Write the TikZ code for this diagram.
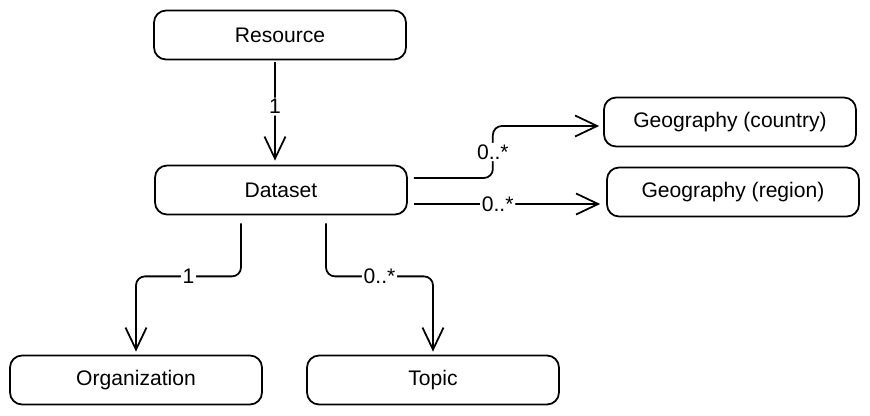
\documentclass[tikz,border=0pt]{standalone}
\usepackage{fontspec}
\setmainfont{Liberation Sans}
\usetikzlibrary{calc,arrows.meta}
\tikzset{
	entity/.style={draw, line width=1pt, rounded corners=0.24cm, minimum width=5.04cm, minimum height=0.98cm, font=\fontsize{12}{14}\selectfont},
	conn/.style={line width=1pt, rounded corners=0.18cm, -{Straight Barb[length=0.44cm,width=0.42cm,line width=1pt]}},
	mult/.style={fill=white, inner sep=1pt, font=\fontsize{12}{14}\selectfont}
}

\begin{document}
\begin{tikzpicture}[x=0.02cm, y=-0.02cm]
		%%%%% START %%%%%
		\useasboundingbox (0, 0) rectangle (870, 416);
		
		\node[entity] (resource) at (280, 35) {Resource};
		\node[entity] (dataset) at (281, 190) {Dataset};
		\node[entity] (geocountry) at (730, 122) {Geography (country)};
		\node[entity] (georegion) at (733, 192) {Geography (region)};
		\node[entity] (organization) at (136, 380) {Organization};
		\node[entity] (topic) at (433, 380) {Topic};
		
		\draw[conn] ($(resource.south)+(-5, 2)$) -- node[mult, pos=0.45] {1} ($(dataset.north)+(-6, -4)$);
		
		\draw[conn] ($(dataset.east)+(6, -12)$) -- ++(79, 0) |- node[mult, pos=0.25] {0..*} ($(geocountry.west)+(-4, 4)$);
		\draw[conn] ($(dataset.east)+(6, 14)$) -- node[mult, pos=0.45] {0..*} ($(georegion.west)+(-6, 12)$);
		
		\draw[conn] ($(dataset.south)+(-40, 8)$) -- ++(0, 53) -| node[mult, pos=0.25] {1} ($(organization.north)+(0, -3)$);
		\draw[conn] ($(dataset.south)+(45, 8)$) -- ++(0, 53) -| node[mult, pos=0.25] {0..*} ($(topic.north)+(0, -3)$);
		
		%%%%% END %%%%%
	\end{tikzpicture}
\end{document}
